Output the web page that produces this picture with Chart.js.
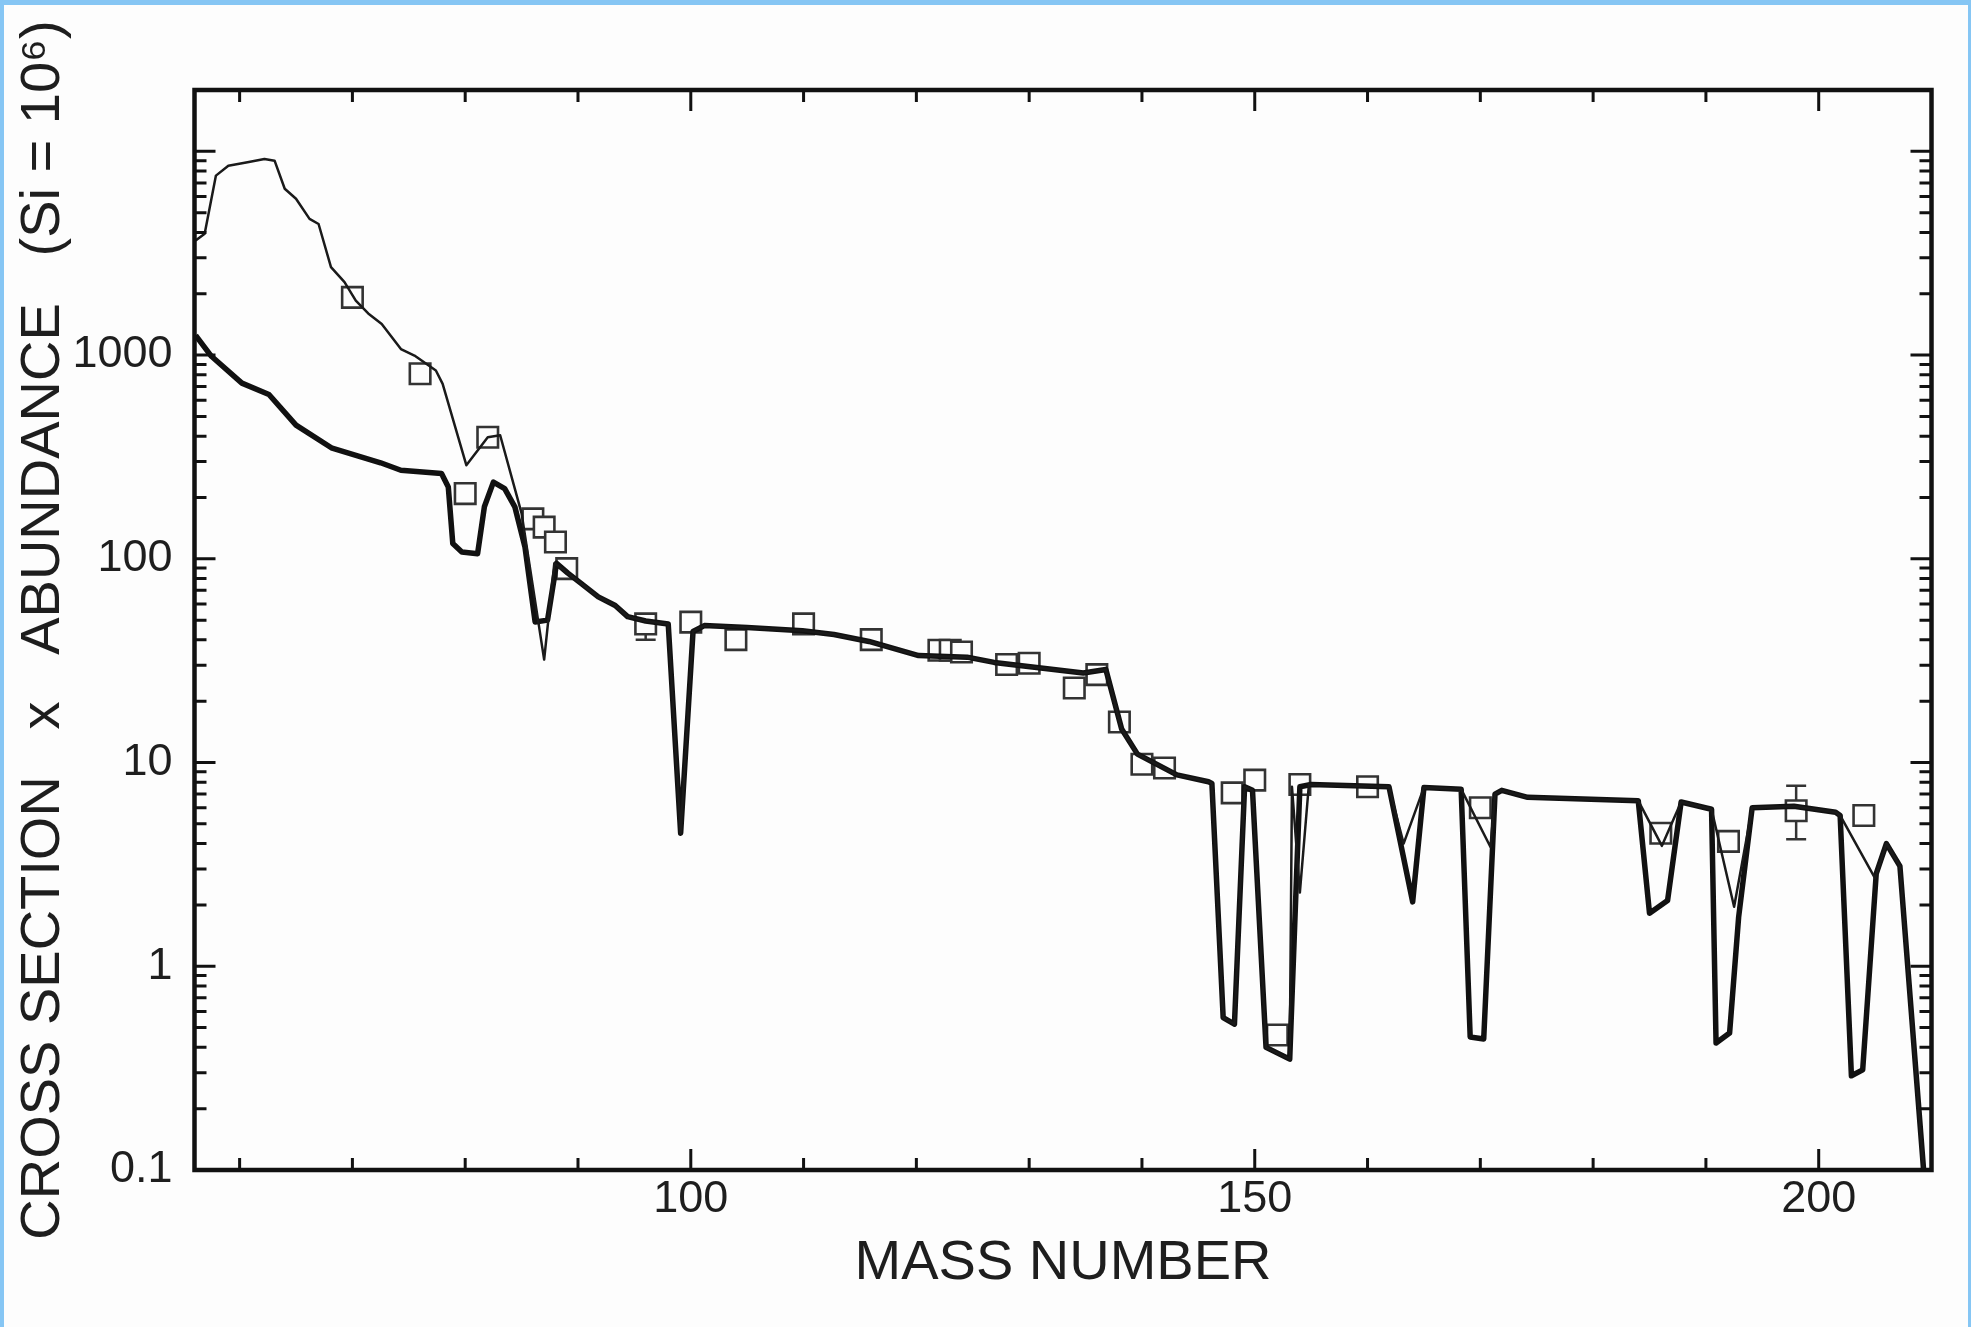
<!DOCTYPE html>
<html>
<head>
<meta charset="utf-8">
<title>Cross section x abundance vs mass number</title>
<script src="https://cdn.jsdelivr.net/npm/chart.js@4.4.1/dist/chart.umd.min.js"></script>
<style>
    html, body { margin: 0; padding: 0; background: #86c6f4; overflow: hidden; }
    #sheet { position: absolute; left: 4px; top: 5px; width: 1964px; height: 1322px; background: #fdfdfd; }
    #chart { position: absolute; left: 0; top: 0; }
</style>
</head>
<body>
<div id="sheet"></div>
<canvas id="chart" width="1971" height="1327"></canvas>
<script>
// thin curve (upper one on the left, follows the thick one further right)
const thinMass = [56.1, 56.9, 57.9, 59.0, 60.7, 62.2, 63.1, 64.0, 65.0, 66.2, 67.0, 68.1, 69.3, 70.3, 71.4, 72.6,
    74.3, 75.5, 77.4, 78.0, 80.1, 82.0, 83.1, 85.0, 87.0, 87.9, 89.1, 90.3, 91.8, 93.3, 94.4, 96.0, 98.0, 99.1,
    100.2, 101.2, 105.0, 109.9, 112.7, 115.8, 120.2, 124.5, 126.9, 134.8, 136.8, 138.2, 139.6, 143.1, 145.9,
    146.2, 147.2, 148.2, 149.1, 149.8, 151.0, 153.1, 153.3, 154.0, 154.8, 161.9, 163.2, 165.0, 168.3, 170.9,
    171.3, 171.9, 174.2, 184.0, 186.1, 187.8, 190.5, 192.5, 194.1, 197.8, 201.5, 201.9, 205.0, 206.0, 207.2,
    209.3, 209.6];
const thinSigma = [3650, 3940, 7600, 8500, 8840, 9180, 9000, 6550, 5850, 4660, 4400, 2700, 2280, 1850, 1600, 1420,
    1070, 995, 840, 722, 288, 395, 404, 167, 32, 95, 85, 75.5, 65, 59, 52, 49.5, 47.9, 4.5,
    44, 47, 46, 44.3, 42.5, 39.3, 33.5, 32.9, 31, 27.5, 28.6, 14.6, 11, 8.7, 8.05,
    7.9, 0.56, 0.52, 7.6, 7.3, 0.40, 0.35, 7.6, 2.3, 7.8, 7.6, 4.0, 7.55, 7.4, 3.85,
    7.0, 7.3, 6.75, 6.5, 3.9, 6.4, 5.9, 1.96, 6.0, 6.1, 5.7, 5.5, 2.7, 4.0, 3.1,
    0.1, 0.07];

// thick curve
const thickMass = [56.1, 57.5, 60.2, 62.6, 65.0, 68.2, 72.5, 74.3, 77.9, 78.5, 78.9, 79.7, 81.1, 81.7, 82.5, 83.5,
    84.4, 85.3, 86.2, 87.3, 88.1, 89.1, 90.3, 91.8, 93.3, 94.4, 96.0, 98.0, 99.1, 100.2, 101.2, 105.0, 109.9,
    112.7, 115.8, 120.2, 124.5, 126.9, 134.8, 136.8, 138.2, 139.6, 143.1, 145.9, 146.2, 147.2, 148.2, 149.1,
    149.8, 151.0, 153.1, 154.0, 155.0, 161.9, 164.0, 165.0, 168.3, 169.1, 170.3, 171.3, 171.9, 174.2, 184.0,
    185.0, 186.6, 187.8, 190.5, 190.9, 192.1, 192.9, 194.1, 197.8, 201.5, 201.9, 202.9, 203.9, 205.1, 206.0,
    207.2, 209.3, 209.6];
const thickSigma = [1250, 986, 728, 640, 453, 349, 296, 272, 262, 225, 119, 108, 106, 180, 238, 221,
    180, 114, 49, 50, 95, 85, 75.5, 65, 59, 52, 49.5, 47.9, 4.5, 44, 47, 46, 44.3,
    42.5, 39.3, 33.5, 32.9, 31, 27.5, 28.6, 14.6, 11, 8.7, 8.05, 7.9, 0.56, 0.52, 7.6,
    7.3, 0.40, 0.35, 7.6, 7.8, 7.6, 2.07, 7.55, 7.4, 0.45, 0.44, 7.0, 7.3, 6.75, 6.5,
    1.82, 2.1, 6.4, 5.9, 0.42, 0.47, 1.74, 6.0, 6.1, 5.7, 5.5, 0.29, 0.31, 2.85, 4.0,
    3.1, 0.1, 0.07];

// open squares
const sOnlyMass = [70, 76, 80, 82, 86, 87, 88, 89, 96, 100, 104, 110, 116, 122, 123, 124, 128, 130, 134, 136,
    138, 140, 142, 148, 150, 152, 154, 160, 170, 186, 192, 198, 204];
const sOnlySigma = [1920, 810, 209, 395, 157, 143, 121, 89.5, 47.9, 48.9, 40.1, 47.9, 40.1, 35.6, 35.6, 34.9, 30.3, 30.7, 23.2, 27,
    15.8, 9.8, 9.4, 7.1, 8.2, 0.46, 7.8, 7.6, 6.0, 4.5, 4.1, 5.8, 5.5];

// error bars
const errMass = [96, 198];
const errLow = [40.1, 4.2];
const errHigh = [53, 7.7];

const xTickLabels = [100, 150, 200];
const yTickLabels = [0.1, 1, 10, 100, 1000];

const FONT = "'Liberation Sans', Arial, Helvetica, sans-serif";

function toPoints(xs, ys) {
    return xs.map((m, i) => ({x: m, y: ys[i]}));
}

// inside tick marks on all four sides plus the box
const frameTicks = {
    id: 'frameTicks',
    afterDraw(chart) {
        const {ctx, chartArea: a, scales: {x, y}} = chart;
        ctx.save();
        ctx.strokeStyle = '#111';
        ctx.lineWidth = 3;
        ctx.beginPath();
        for (let m = 60; m <= 200; m += 10) {
            const px = x.getPixelForValue(m);
            const len = m % 50 === 0 ? 21 : 12;
            ctx.moveTo(px, a.bottom); ctx.lineTo(px, a.bottom - len);
            ctx.moveTo(px, a.top); ctx.lineTo(px, a.top + len);
        }
        for (let e = -1; e <= 4; e++) {
            for (let k = 1; k <= 9; k++) {
                const v = k * Math.pow(10, e);
                if (v <= y.min * 1.0001 || v >= y.max) continue;
                const py = y.getPixelForValue(v);
                const len = k === 1 ? 21 : 12;
                ctx.moveTo(a.left, py); ctx.lineTo(a.left + len, py);
                ctx.moveTo(a.right, py); ctx.lineTo(a.right - len, py);
            }
        }
        ctx.stroke();
        ctx.lineWidth = 4.5;
        ctx.strokeRect(a.left, a.top, a.right - a.left, a.bottom - a.top);
        ctx.restore();
    }
};

const errorBars = {
    id: 'errorBars',
    beforeDatasetDraw(chart, args) {
        if (args.index !== 2) return;
        const {ctx, scales: {x, y}} = chart;
        ctx.save();
        ctx.strokeStyle = '#333';
        ctx.lineWidth = 2.5;
        errMass.forEach((m, i) => {
            const px = x.getPixelForValue(m);
            const lo = y.getPixelForValue(errLow[i]);
            const hi = y.getPixelForValue(errHigh[i]);
            ctx.beginPath();
            ctx.moveTo(px, lo); ctx.lineTo(px, hi);
            ctx.moveTo(px - 10, lo); ctx.lineTo(px + 10, lo);
            ctx.moveTo(px - 10, hi); ctx.lineTo(px + 10, hi);
            ctx.stroke();
        });
        ctx.restore();
    }
};

new Chart(document.getElementById('chart'), {
    type: 'scatter',
    data: {
        datasets: [
            {
                data: toPoints(thinMass, thinSigma),
                showLine: true,
                borderColor: '#1a1a1a',
                borderWidth: 2.5,
                borderJoinStyle: 'round',
                pointRadius: 0,
                tension: 0
            },
            {
                data: toPoints(thickMass, thickSigma),
                showLine: true,
                borderColor: '#111',
                borderWidth: 5.5,
                borderJoinStyle: 'round',
                pointRadius: 0,
                tension: 0
            },
            {
                data: toPoints(sOnlyMass, sOnlySigma),
                showLine: false,
                pointStyle: 'rect',
                pointRadius: 14.5,
                borderWidth: 2.6,
                borderColor: '#333',
                backgroundColor: '#fdfdfd'
            }
        ]
    },
    options: {
        responsive: false,
        animation: false,
        layout: { padding: { top: 90, right: 39.5, left: 0, bottom: 0 } },
        plugins: { legend: { display: false }, tooltip: { enabled: false } },
        scales: {
            x: {
                type: 'linear',
                min: 56,
                max: 210,
                afterFit: s => { s.height = 157; },
                afterBuildTicks: s => { s.ticks = xTickLabels.map(v => ({value: v})); },
                grid: { display: false, drawTicks: false },
                border: { display: false },
                ticks: {
                    font: { family: FONT, size: 45 },
                    color: '#1e1e1e',
                    padding: 3,
                    maxRotation: 0,
                    autoSkip: false
                },
                title: {
                    display: true,
                    text: 'MASS NUMBER',
                    font: { family: FONT, size: 56 },
                    color: '#1e1e1e',
                    padding: { top: 0, bottom: 30 }
                }
            },
            y: {
                type: 'logarithmic',
                min: 0.1,
                max: 20000,
                afterFit: s => { s.width = 194.5; },
                afterBuildTicks: s => { s.ticks = yTickLabels.map(v => ({value: v})); },
                grid: { display: false, drawTicks: false },
                border: { display: false },
                ticks: {
                    font: { family: FONT, size: 45 },
                    color: '#1e1e1e',
                    padding: 22,
                    autoSkip: false,
                    callback: v => String(v)
                },
                title: {
                    display: true,
                    text: 'CROSS SECTION   x   ABUNDANCE   (Si = 10\u2076)',
                    font: { family: FONT, size: 56 },
                    color: '#1e1e1e',
                    padding: { top: 10, bottom: 0 }
                }
            }
        }
    },
    plugins: [errorBars, frameTicks]
});
</script>
</body>
</html>
